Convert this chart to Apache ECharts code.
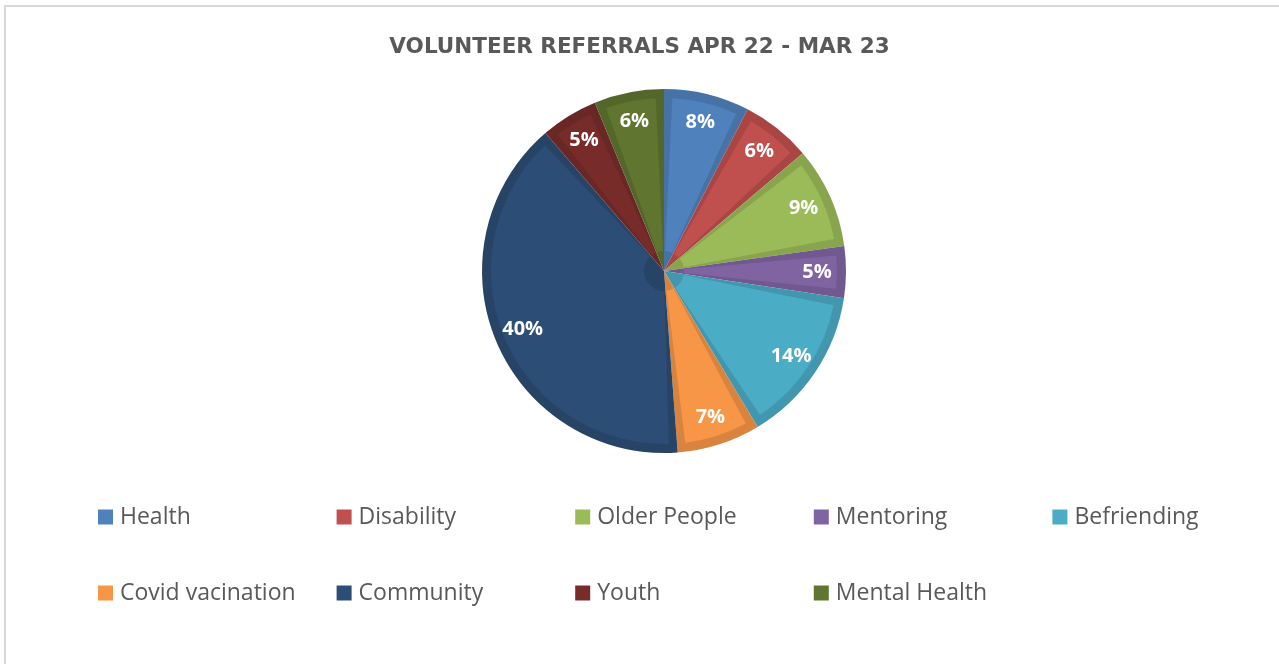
<!DOCTYPE html>
<html><head><meta charset="utf-8">
<script src="https://cdn.jsdelivr.net/npm/echarts@6/dist/echarts.min.js"></script>
<style>
html,body{margin:0;padding:0;background:#fff;overflow:hidden;width:1279px;height:664px}
#frame{position:absolute;left:4px;top:5px;width:1300px;height:700px;border-left:2px solid #D9D9D9;border-top:2px solid #D9D9D9;}
#chart{position:absolute;left:0;top:0;width:1279px;height:664px}
</style></head><body><div id="frame"></div><div id="chart"></div>
<script>
const chartTitle = 'VOLUNTEER REFERRALS APR 22 - MAR 23';
const categories = ['Health','Disability','Older People','Mentoring','Befriending','Covid vacination','Community','Youth','Mental Health'];
const shares = [7.6, 6.2, 9.0, 4.6, 14.0, 7.4, 39.9, 5.1, 6.2];
const colors = ['#4F81BD','#C0504D','#9BBB59','#8064A2','#4BACC6','#F79646','#2C4D75','#772C2A','#5F7530'];

function shade(hex, f){
  const n = parseInt(hex.slice(1),16);
  const r = Math.round(((n>>16)&255)*f), g = Math.round(((n>>8)&255)*f), b = Math.round((n&255)*f);
  return 'rgb('+r+','+g+','+b+')';
}
const FONT = '"Open Sans", "Noto Sans", sans-serif';
const center = [664, 271];

const baseData = categories.map((c,i)=>({name:c, value:shares[i], itemStyle:{color:shade(colors[i],0.88)}}));
const innerData = categories.map((c,i)=>({name:c, value:shares[i], itemStyle:{color:colors[i]}}));
const labelData = categories.map((c,i)=>({name:c, value:shares[i]}));

const legends = categories.map((c,i)=>({
  show:true,
  data:[{name:c, itemStyle:{color:colors[i]}}],
  left: 93 + (i%5)*238.6,
  top: Math.floor(i/5) === 0 ? 500 : 576,
  itemWidth:15, itemHeight:15,
  icon:'rect',
  selectedMode:false,
  textStyle:{fontFamily:FONT, fontSize:23, color:'#595959', padding:[0,0,0,2], lineHeight:24}
}));

const chart = echarts.init(document.getElementById('chart'), null, {renderer:'canvas'});
chart.setOption({
  animation:false,
  title:{text:chartTitle, left:'center', top:31, textStyle:{fontFamily:'"DejaVu Sans", sans-serif', fontSize:21.5, fontWeight:'bold', color:'#595959'}},
  legend: legends,
  series:[
    {type:'pie', name:'inner', z:3, center:center, radius:[20,173], padAngle:5.5, startAngle:90, clockwise:true,
     silent:true, label:{show:false}, labelLine:{show:false}, emphasis:{disabled:true}, data:innerData},
    {type:'pie', name:'base', z:2, center:center, radius:[0,182], startAngle:90, clockwise:true,
     silent:true, label:{show:false}, labelLine:{show:false}, emphasis:{disabled:true},
     itemStyle:{borderWidth:0}, data:baseData},
    {type:'pie', name:'labels', z:4, center:center, radius:[118,182], startAngle:90, clockwise:true,
     silent:true, emphasis:{disabled:true}, itemStyle:{color:'rgba(0,0,0,0)'}, labelLine:{show:false},
     label:{show:true, position:'inside', color:'#fff', fontFamily:FONT, fontSize:20, fontWeight:'bold',
       formatter:p=>Math.round(p.percent)+'%'},
     data:labelData}
  ]
});
</script></body></html>
